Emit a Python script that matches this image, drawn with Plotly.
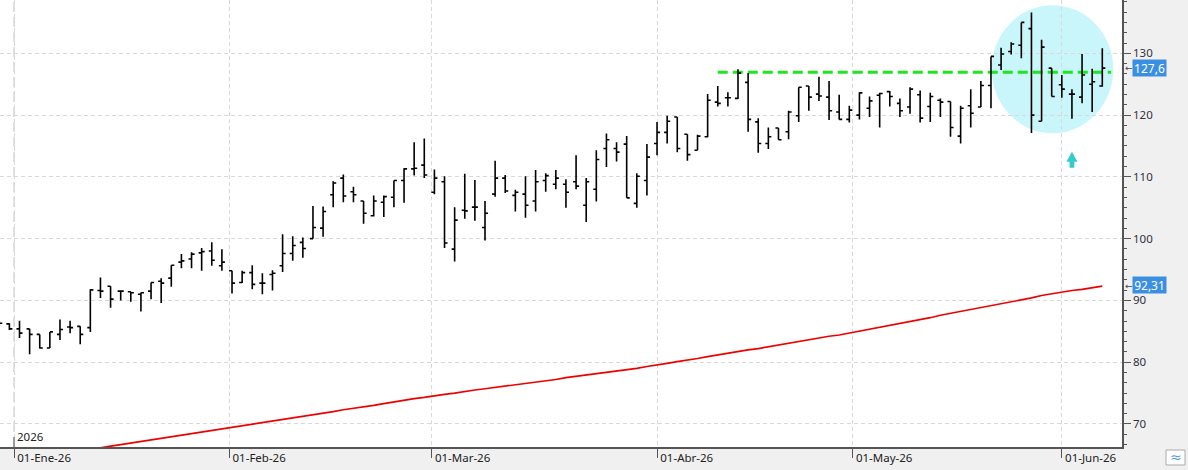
import plotly.graph_objects as go

# ---------------- data ----------------
dates = [
    "2025-12-30", "2025-12-31", "2026-01-02", "2026-01-05", "2026-01-06", "2026-01-07", "2026-01-08", "2026-01-09",
    "2026-01-12", "2026-01-13", "2026-01-14", "2026-01-15", "2026-01-16", "2026-01-19", "2026-01-20", "2026-01-21",
    "2026-01-22", "2026-01-23", "2026-01-26", "2026-01-27", "2026-01-28", "2026-01-29", "2026-01-30",
    "2026-02-02", "2026-02-03", "2026-02-04", "2026-02-05", "2026-02-06", "2026-02-09", "2026-02-10", "2026-02-11",
    "2026-02-12", "2026-02-13", "2026-02-16", "2026-02-17", "2026-02-18", "2026-02-19", "2026-02-20", "2026-02-23",
    "2026-02-24", "2026-02-25", "2026-02-26", "2026-02-27",
    "2026-03-02", "2026-03-03", "2026-03-04", "2026-03-05", "2026-03-06", "2026-03-09", "2026-03-10", "2026-03-11",
    "2026-03-12", "2026-03-13", "2026-03-16", "2026-03-17", "2026-03-18", "2026-03-19", "2026-03-20", "2026-03-23",
    "2026-03-24", "2026-03-25", "2026-03-26", "2026-03-27", "2026-03-30", "2026-03-31",
    "2026-04-01", "2026-04-02", "2026-04-07", "2026-04-08", "2026-04-09", "2026-04-10", "2026-04-13", "2026-04-14",
    "2026-04-15", "2026-04-16", "2026-04-17", "2026-04-20", "2026-04-21", "2026-04-22", "2026-04-23", "2026-04-24",
    "2026-04-27", "2026-04-28", "2026-04-29", "2026-04-30",
    "2026-05-04", "2026-05-05", "2026-05-06", "2026-05-07", "2026-05-08", "2026-05-11", "2026-05-12", "2026-05-13",
    "2026-05-14", "2026-05-15", "2026-05-18", "2026-05-19", "2026-05-20", "2026-05-21", "2026-05-22", "2026-05-25",
    "2026-05-26", "2026-05-27", "2026-05-28", "2026-05-29",
    "2026-06-01", "2026-06-02", "2026-06-03", "2026-06-04", "2026-06-05",
]

opens = [
    86.4, 86.2, 85.4, 85.4, 84.5, 82.3, 84.5, 85.7,
    85.8, 85.6, 91.6, 92.3, 91.5, 91.4, 91.0, 91.5,
    93.1, 93.6, 96.2, 96.7, 97.7, 98.0, 95.6,
    94.8, 92.9, 94.5, 92.8, 94.2, 95.6, 97.6, 99.4,
    100.0, 101.7, 107.1, 109.8, 107.6, 106.1, 103.7, 105.9,
    106.7, 109.4, 111.3, 111.9,
    107.5, 109.2, 98.3, 104.6, 105.1, 101.8, 107.2, 109.8,
    107.0, 107.2, 106.1, 109.4, 108.8, 108.8, 109.2, 105.4,
    108.0, 114.6, 114.6, 115.3, 105.7, 109.4,
    115.4, 117.2, 119.7, 116.9, 114.3, 116.5, 122.1, 122.8,
    122.7, 125.3, 118.9, 115.4, 117.9, 117.3, 119.9, 124.7,
    123.4, 122.9, 120.5, 119.3,
    120.0, 121.1, 123.2, 123.8, 121.9, 121.3, 123.3, 121.4,
    122.4, 122.2, 116.6, 121.5, 121.3, 124.8, 128.1, 130.3,
    131.3, 134.0, 119.0, 127.6,
    124.9, 123.4, 122.9, 125.0, 124.7,
]

highs = [
    86.6, 86.3, 86.7, 85.4, 84.5, 84.9, 86.9, 86.7,
    85.8, 91.8, 93.7, 92.3, 91.5, 91.4, 91.3, 92.9,
    93.6, 95.7, 97.5, 97.8, 98.5, 99.4, 98.3,
    94.8, 94.8, 95.7, 94.4, 94.9, 100.7, 100.4, 100.2,
    105.3, 105.2, 109.3, 110.4, 108.4, 106.1, 107.0, 107.0,
    109.4, 111.4, 115.6, 116.2,
    111.2, 110.1, 105.1, 110.5, 109.5, 106.1, 112.6, 110.3,
    107.9, 110.1, 111.1, 110.6, 111.1, 109.6, 113.5, 109.8,
    114.3, 117.0, 115.6, 116.6, 110.6, 115.3,
    118.9, 119.9, 119.7, 116.9, 116.8, 123.4, 124.7, 123.7,
    127.4, 126.8, 119.5, 118.0, 117.9, 120.7, 124.5, 124.7,
    126.2, 125.5, 123.3, 121.5,
    123.7, 123.0, 123.6, 123.9, 122.7, 124.5, 124.0, 123.6,
    122.7, 122.2, 121.5, 124.2, 125.5, 129.5, 130.9, 131.8,
    135.0, 136.6, 132.2, 127.6,
    126.5, 124.2, 129.9, 127.5, 130.8,
]

lows = [
    85.9, 85.2, 83.9, 81.3, 82.2, 82.3, 83.6, 84.7,
    82.9, 84.9, 90.4, 88.8, 90.0, 89.8, 88.2, 90.2,
    89.6, 92.2, 95.2, 95.2, 94.8, 95.6, 94.8,
    91.1, 92.8, 91.8, 91.0, 91.6, 94.6, 96.4, 96.9,
    100.0, 100.3, 105.1, 105.9, 105.9, 102.4, 103.6, 103.5,
    105.1, 105.8, 110.2, 109.8,
    107.2, 98.5, 96.3, 103.2, 102.9, 99.7, 106.8, 107.4,
    104.4, 103.4, 104.4, 107.6, 108.0, 105.0, 108.0, 102.7,
    106.0, 111.6, 112.5, 106.6, 105.0, 107.0,
    113.5, 115.4, 114.0, 112.6, 114.3, 116.4, 121.4, 121.4,
    122.6, 117.3, 113.9, 114.5, 116.0, 116.1, 118.9, 120.7,
    122.3, 119.2, 119.3, 118.8,
    119.3, 119.7, 118.0, 121.4, 119.7, 120.2, 118.8, 118.9,
    119.7, 116.5, 115.4, 118.0, 121.3, 121.1, 127.3, 129.8,
    129.2, 117.1, 119.0, 123.0,
    122.8, 119.4, 121.9, 120.5, 124.6,
]

closes = [
    86.3, 85.4, 84.7, 84.5, 82.3, 84.9, 85.3, 85.6,
    84.5, 91.7, 91.5, 90.2, 91.5, 91.25, 91.25, 92.9,
    92.8, 95.7, 96.4, 97.5, 97.9, 96.5, 96.2,
    92.8, 94.5, 92.6, 92.8, 94.4, 97.6, 98.9, 98.4,
    101.8, 104.4, 109.0, 106.9, 107.1, 104.1, 106.1, 106.8,
    109.4, 111.3, 111.4, 110.3,
    109.8, 99.3, 103.0, 104.5, 105.1, 104.1, 109.8, 107.7,
    107.5, 105.4, 109.2, 110.2, 109.8, 107.5, 108.5, 109.2,
    112.8, 116.0, 114.0, 106.6, 110.1, 113.2,
    117.2, 119.0, 114.6, 113.6, 116.6, 122.4, 121.9, 122.8,
    126.8, 119.3, 115.4, 116.5, 116.0, 120.5, 124.5, 122.9,
    123.1, 120.7, 119.3, 120.8,
    123.6, 122.3, 123.5, 123.0, 120.7, 124.2, 119.5, 123.0,
    122.1, 118.0, 121.1, 120.3, 124.8, 129.5, 129.9, 131.5,
    135.0, 120.0, 131.0, 123.0,
    124.2, 123.4, 126.5, 125.4, 127.6,
]

# long moving average (red line), one value per session from 12-Jan-26
ma_start = "2026-01-12"
ma_values = [
    65.6, 65.9, 66.15, 66.4, 66.65, 66.9, 67.15, 67.4, 67.65, 67.9, 68.15, 68.4, 68.65, 68.9, 69.15,
    69.4, 69.7, 69.9, 70.2, 70.5, 70.7, 71.0, 71.2, 71.5, 71.7, 72.0, 72.3, 72.5, 72.8, 73.0,
    73.3, 73.6, 73.8, 74.1, 74.3,
    74.6, 74.8, 75.0, 75.3, 75.5, 75.7, 75.9, 76.1, 76.4, 76.6, 76.8, 77.0, 77.2, 77.5, 77.7,
    77.9, 78.1, 78.3, 78.6, 78.8, 79.0, 79.3,
    79.5, 79.8, 80.1, 80.3, 80.6, 80.9, 81.2, 81.4, 81.7, 82.0, 82.2, 82.5, 82.8, 83.1, 83.3,
    83.6, 83.9, 84.2, 84.4, 84.7,
    85.0, 85.3, 85.6, 86.0, 86.3, 86.6, 86.9, 87.2, 87.6, 87.9, 88.2, 88.5, 88.8, 89.2, 89.5,
    89.8, 90.1, 90.4, 90.8, 91.1,
    91.4, 91.6, 91.8, 92.1, 92.31,
]

holidays = ["2026-01-01", "2026-04-03", "2026-04-06", "2026-05-01"]

tick_positions = ["2025-12-31 11:00", "2026-01-30 17:30", "2026-02-27 17:30",
                  "2026-04-01", "2026-04-30 08:00", "2026-06-01"]
tick_labels = ["01-Ene-26", "01-Feb-26", "01-Mar-26", "01-Abr-26", "01-May-26", "01-Jun-26"]
year_label = "2026"

resistance_level = 126.95
resistance_start = "2026-04-13"
resistance_end = "2026-06-05 21:00"
arrow_date = "2026-06-02"
arrow_level = 112.45

# ---------------- figure ----------------
ma_i0 = dates.index(ma_start)
FONT = "Noto Sans"

fig = go.Figure()
fig.add_trace(go.Scatter(
    x=dates[ma_i0:], y=ma_values, mode="lines",
    line=dict(color="#ee0000", width=1.7), hoverinfo="skip", showlegend=False,
))
fig.add_trace(go.Ohlc(
    x=dates, open=opens, high=highs, low=lows, close=closes,
    increasing=dict(line=dict(color="#000000", width=1.6)),
    decreasing=dict(line=dict(color="#000000", width=1.6)),
    tickwidth=0.3, hoverinfo="skip", showlegend=False,
))

grid_col = "#d9d9d9"
axis_col = "#555555"

fig.update_layout(
    width=1188, height=470,
    margin=dict(l=0, r=66, t=0, b=23),
    paper_bgcolor="#f0f0f0", plot_bgcolor="#ffffff",
    showlegend=False,
    xaxis=dict(
        type="date",
        range=["2025-12-30 01:45", "2026-06-08 22:44"],
        rangebreaks=[dict(bounds=["sat", "mon"]), dict(values=holidays)],
        rangeslider=dict(visible=False),
        tickmode="array", tickvals=tick_positions, ticktext=tick_labels,
        ticks="outside", ticklen=9, tickcolor=axis_col, tickwidth=1,
        ticklabelposition="outside right", ticklabelstandoff=-1, ticklabelshift=2,
        tickfont=dict(family=FONT, size=11.5, color="#222222"),
        showgrid=True, gridcolor=grid_col, griddash="4px,3px", gridwidth=1,
        showline=True, linecolor=axis_col, linewidth=1.5,
        zeroline=False, fixedrange=True,
    ),
    yaxis=dict(
        side="right",
        range=[66.27, 138.63],
        tickmode="linear", tick0=70, dtick=10,
        ticks="outside", ticklen=7, tickcolor=axis_col, tickwidth=1,
        tickfont=dict(family=FONT, size=11.5, color="#33303f"),
        showgrid=True, gridcolor=grid_col, griddash="4px,3px", gridwidth=1,
        showline=True, linecolor=axis_col, linewidth=1.5,
        zeroline=False, fixedrange=True,
        minor=dict(tickmode="linear", tick0=70, dtick=10 / 6, ticks="outside",
                   ticklen=3, tickcolor=axis_col, tickwidth=1, showgrid=False),
    ),
)

shapes = [
    # highlighted zone
    dict(type="circle", xref="paper", yref="y", x0=991.7 / 1122, x1=1113.3 / 1122,
         y0=117.05, y1=137.8, fillcolor="#c9f6fa", line=dict(width=0), layer="below"),
    # year separator
    dict(type="line", xref="x", yref="paper", x0=tick_positions[0], x1=tick_positions[0],
         y0=0, y1=1, line=dict(color="#cccccc", width=1.2, dash="10px,5px"), layer="below"),
    dict(type="line", xref="x", yref="paper", x0=tick_positions[0], x1=tick_positions[0],
         y0=0, y1=10 / 447, line=dict(color=axis_col, width=1)),
    # resistance line
    dict(type="line", xref="x", yref="y", x0=resistance_start, x1=resistance_end,
         y0=resistance_level, y1=resistance_level,
         line=dict(color="#1ee61e", width=3, dash="10px,5px"), layer="between"),
    # up arrow
    dict(type="path", xref="x", yref="y", xsizemode="pixel", ysizemode="pixel",
         xanchor=arrow_date, yanchor=arrow_level,
         path="M -5.5 0 L 0 10 L 5.5 0 L 2.4 0 L 2.4 -6 L -2.4 -6 L -2.4 0 Z",
         fillcolor="#33cccc", line=dict(width=0)),
    # bottom-right icon box
    dict(type="rect", xref="paper", yref="paper", x0=1166 / 1122, x1=1185 / 1122,
         y0=-(465 - 447) / 447, y1=-(450 - 447) / 447,
         fillcolor="#ffffff", line=dict(color="#aaaaaa", width=1)),
]
fig.update_layout(shapes=shapes)


def fmt(v):
    s = f"{v:.2f}".rstrip("0").rstrip(".")
    return s.replace(".", ",")


annotations = [
    dict(text=year_label, xref="x", yref="paper", x=tick_positions[0], y=0,
         xanchor="left", yanchor="bottom", xshift=1, yshift=1, showarrow=False,
         font=dict(family=FONT, size=11.5, color="#222222")),
    dict(text=fmt(closes[-1]), xref="paper", yref="y", x=1132 / 1122, y=closes[-1],
         xanchor="left", yanchor="middle", showarrow=False, width=31, height=14, borderpad=1,
         bgcolor="#3b8fe3", font=dict(family=FONT, size=12, color="#ffffff")),
    dict(text=fmt(ma_values[-1]), xref="paper", yref="y", x=1132 / 1122, y=ma_values[-1],
         xanchor="left", yanchor="middle", yshift=1, showarrow=False, width=31, height=14, borderpad=1,
         bgcolor="#3b8fe3", font=dict(family=FONT, size=12, color="#ffffff")),
    dict(text="←", xref="paper", yref="y", x=1122.5 / 1122, y=closes[-1],
         xanchor="left", yanchor="middle", showarrow=False,
         font=dict(family="DejaVu Sans", size=9, color="#444444")),
    dict(text="←", xref="paper", yref="y", x=1122.5 / 1122, y=ma_values[-1],
         xanchor="left", yanchor="middle", showarrow=False,
         font=dict(family="DejaVu Sans", size=9, color="#444444")),
    dict(text="≈", xref="paper", yref="paper", x=1175.5 / 1122, y=-(457.5 - 447) / 447,
         xanchor="center", yanchor="middle", showarrow=False,
         font=dict(family="DejaVu Sans", size=14, color="#5b9bd5")),
]
fig.update_layout(annotations=annotations)

fig.write_html("out.html")
